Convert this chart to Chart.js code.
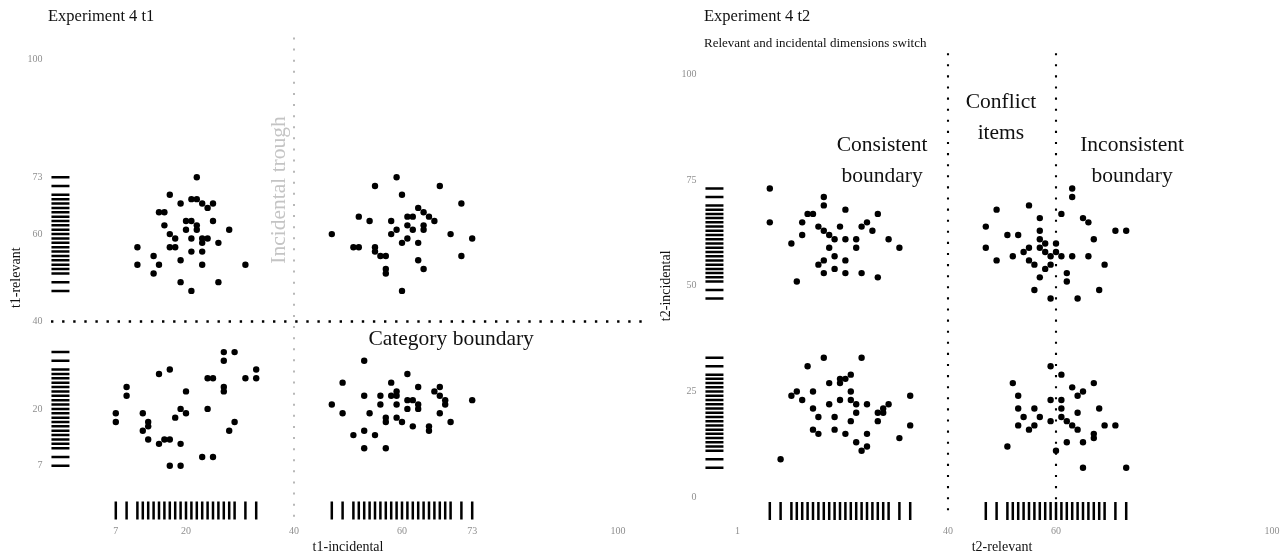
<!DOCTYPE html>
<html><head><meta charset="utf-8">
<script src="https://cdn.jsdelivr.net/npm/chart.js@4.4.1/dist/chart.umd.min.js"></script>
<style>
html,body{margin:0;padding:0;background:#fff;overflow:hidden;width:1287px;height:556px;}
#wrap{position:relative;width:1287px;height:556px;overflow:hidden;}
canvas{position:absolute;top:0;}
.t{position:absolute;font-family:"Liberation Serif",serif;color:#111;white-space:nowrap;line-height:1;}
</style></head><body>
<div id="wrap">
<canvas id="c1" width="652" height="556" style="left:0"></canvas>
<canvas id="c2" width="660" height="556" style="left:645px"></canvas>
<div class="t" style="left:48px;top:8px;font-size:16.5px">Experiment 4 t1</div>
<div class="t" style="left:704px;top:8px;font-size:16.5px">Experiment 4 t2</div>
<div class="t" style="left:704px;top:36px;font-size:13px">Relevant and incidental dimensions switch</div>
</div>
<script>
// ---- Experiment 4 t1 : x = incidental, y = relevant ----
const t1Incidental = [
 22,17,19,21,22,23,25,24,15,16,20,21,25,16,22,20,22,28,17,18,21,23,24,23,26,11,17,18,21,23,14,19,11,15,23,31,14,19,26,21,
 27,29,27,15,17,33,24,25,31,33,9,27,27,20,9,7,12,19,20,24,7,13,13,18,29,12,28,13,16,17,15,19,23,25,17,19,
 59,55,67,60,71,63,64,52,61,62,65,54,58,66,61,64,59,62,64,47,58,69,61,73,60,63,51,52,55,55,56,57,71,63,57,64,57,60,
 53,61,49,58,63,66,67,59,53,56,58,59,67,61,62,68,73,47,56,59,63,68,61,63,49,54,67,57,59,57,60,69,62,65,65,53,51,55,53,57
];
const t1Relevant = [
 73,69,67,68,68,67,67,66,65,65,63,63,63,62,62,61,61,61,60,59,59,59,59,58,58,57,57,57,56,56,55,54,53,53,53,53,51,49,49,47,
 33,33,31,28,29,29,27,27,27,27,25,25,24,24,23,19,19,20,19,20,17,17,16,18,17,15,15,13,13,13,12,12,9,9,7,7,
 73,71,71,69,67,66,65,64,64,64,64,63,63,63,62,62,61,61,61,60,60,60,59,59,58,58,57,57,57,56,55,55,55,54,52,52,51,47,
 31,28,26,26,25,24,25,24,23,23,23,23,23,22,22,22,22,21,21,21,21,21,20,20,19,19,19,18,18,17,17,17,16,16,15,15,14,14,11,11
];
// ---- Experiment 4 t2 : x = relevant, y = incidental ----
const t2Relevant = [
 7,17,17,21,14,15,27,7,13,25,16,20,24,17,26,13,18,19,21,23,29,11,18,23,31,19,17,21,16,19,17,21,24,27,12,
 63,63,55,49,61,57,65,66,47,71,73,51,53,57,57,67,58,60,47,55,57,54,58,60,49,52,59,61,63,66,55,56,59,69,58,62,57,62,56,68,59,64,
 17,24,14,22,20,21,18,20,12,15,22,11,33,13,20,22,18,23,25,29,15,28,23,27,28,16,19,22,27,33,15,19,16,21,25,31,23,25,24,9,
 59,61,52,67,63,65,53,64,59,61,53,56,61,68,54,57,61,64,59,62,53,56,63,69,71,55,64,67,67,62,65,51,60,65,73
];
const t2Incidental = [
 73,71,69,68,67,67,67,65,65,65,64,64,64,63,63,62,62,61,61,61,61,60,59,59,59,57,56,56,55,54,53,53,53,52,51,
 73,71,69,68,67,66,66,65,64,63,63,62,62,63,61,61,60,60,59,59,59,58,58,58,56,57,57,57,57,57,56,55,55,55,54,53,52,51,49,49,47,47,
 33,33,31,29,28,28,27,27,25,25,25,24,24,23,23,23,22,22,22,22,21,21,20,20,20,19,19,18,18,17,16,16,15,15,15,14,13,12,11,9,
 31,29,27,27,26,25,24,24,23,23,21,21,21,21,19,19,19,20,18,18,17,17,17,17,17,16,16,15,14,13,13,12,11,7,7
];
// rug marks: stimulus values present on each dimension
const rugValues = [7,9,11,12,13,14,15,16,17,18,19,20,21,22,23,24,25,26,27,28,29,31,33,
                   47,49,51,52,53,54,55,56,57,58,59,60,61,62,63,64,65,66,67,68,69,71,73];
// tick labels
const t1Ticks = [7,20,40,60,73,100];
const t2XTicks = [1,40,60,100];
const t2YTicks = [0,25,50,75,100];

const FAM = '"Liberation Serif", serif';

const annot = {
  id: 'annot',
  afterDatasetsDraw(chart, args, opts) {
    const {ctx, scales:{x, y}} = chart;
    (opts.items || []).forEach(it => {
      ctx.save();
      ctx.font = it.size + 'px ' + FAM;
      ctx.fillStyle = it.color || '#111';
      ctx.textAlign = 'center';
      ctx.textBaseline = 'middle';
      ctx.translate(x.getPixelForValue(it.x), y.getPixelForValue(it.y));
      if (it.rot) ctx.rotate(it.rot);
      it.lines.forEach((l, i) => ctx.fillText(l, 0, (i - (it.lines.length - 1) / 2) * (it.lh || 0)));
      ctx.restore();
    });
  }
};

function pts(xs, ys) { return xs.map((v, i) => ({x: v, y: ys[i]})); }

function makeChart(id, cfg) {
  const datasets = [
    {data: pts(cfg.xs, cfg.ys), pointRadius: 3.2, pointBackgroundColor: '#000', pointBorderWidth: 0, showLine: false},
    {data: rugValues.map(v => ({x: -3.25, y: v})), pointStyle: 'line', pointRadius: 9, pointBorderWidth: 2.5, pointBorderColor: '#000', showLine: false},
    {data: rugValues.map(v => ({x: v, y: -3.25})), pointStyle: 'line', pointRotation: 90, pointRadius: 9, pointBorderWidth: 2.5, pointBorderColor: '#000', showLine: false}
  ];
  cfg.refLines.forEach(r => datasets.push({
    data: r.pts, showLine: true, pointRadius: 0, borderColor: r.color, borderWidth: r.w,
    borderDash: [r.w, 11.1 - r.w], borderCapStyle: 'butt', fill: false
  }));
  return new Chart(document.getElementById(id), {
    type: 'scatter',
    data: {datasets},
    plugins: [annot],
    options: {
      responsive: false, animation: false, events: [],
      layout: {autoPadding: false, padding: {top: cfg.padTop, right: cfg.padRight, bottom: 0, left: 0}},
      plugins: {legend: {display: false}, tooltip: {enabled: false}, annot: {items: cfg.texts}},
      scales: {
        x: {
          type: 'linear', min: -6, max: 106,
          afterBuildTicks: s => { s.ticks = cfg.xTicks.map(v => ({value: v})); },
          afterFit: s => { s.height = cfg.xHeight; },
          grid: {display: false, drawTicks: false}, border: {display: false},
          ticks: {color: '#8f8f8f', font: {family: FAM, size: 10}, padding: 3, autoSkip: false, maxRotation: 0},
          title: {display: true, text: cfg.xTitle, color: '#111', font: {family: FAM, size: 14}, padding: {top: 0, bottom: 0}}
        },
        y: {
          type: 'linear', min: -6, max: 106,
          afterBuildTicks: s => { s.ticks = cfg.yTicks.map(v => ({value: v})); },
          afterFit: s => { s.width = cfg.yWidth; },
          grid: {display: false, drawTicks: false}, border: {display: false},
          ticks: {color: '#8f8f8f', font: {family: FAM, size: 10}, padding: 3, autoSkip: false},
          title: {display: true, text: cfg.yTitle, color: '#111', font: {family: FAM, size: 14}, padding: {top: cfg.yTitlePad, bottom: 0}}
        }
      }
    }
  });
}

makeChart('c1', {
  xs: t1Incidental, ys: t1Relevant, xTicks: t1Ticks, yTicks: t1Ticks,
  xTitle: 't1-incidental', yTitle: 't1-relevant',
  padTop: 33.1, padRight: 1.6, yWidth: 45.6, xHeight: 33.5, yTitlePad: 8.3,
  refLines: [
    {pts: [{x: 40, y: 105}, {x: 40, y: -5}], color: '#b8b8b8', w: 2},
    {pts: [{x: -5, y: 40}, {x: 105, y: 40}], color: '#000', w: 2.4}
  ],
  texts: [
    {x: 69.1, y: 36.0, size: 21.5, lines: ['Category boundary']},
    {x: 37.2, y: 70.1, size: 21.5, color: '#c4c4c4', rot: -Math.PI / 2, lines: ['Incidental trough']}
  ]
});

makeChart('c2', {
  xs: t2Relevant, ys: t2Incidental, xTicks: t2XTicks, yTicks: t2YTicks,
  xTitle: 't2-relevant', yTitle: 't2-incidental',
  padTop: 48.9, padRight: 0.6, yWidth: 54.6, xHeight: 33.3, yTitlePad: 13.3,
  refLines: [
    {pts: [{x: 40, y: 105}, {x: 40, y: -5}], color: '#000', w: 2.1},
    {pts: [{x: 60, y: 105}, {x: 60, y: -5}], color: '#000', w: 2.1}
  ],
  texts: [
    {x: 27.8, y: 79.6, size: 21.5, lh: 31, lines: ['Consistent', 'boundary']},
    {x: 49.8, y: 89.8, size: 21.5, lh: 31, lines: ['Conflict', 'items']},
    {x: 74.1, y: 79.6, size: 21.5, lh: 31, lines: ['Inconsistent', 'boundary']}
  ]
});
</script>
</body></html>
